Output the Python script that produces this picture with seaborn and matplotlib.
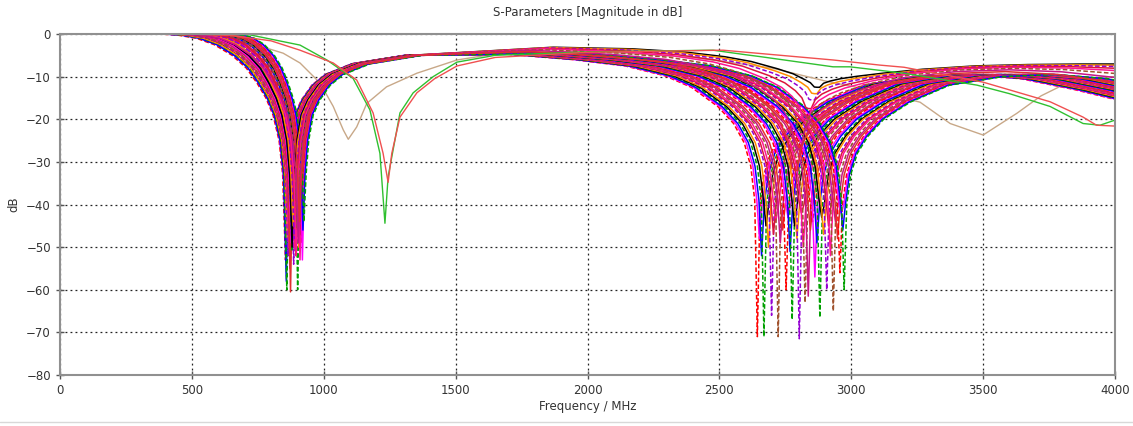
import numpy as np
import pandas as pd
import matplotlib
matplotlib.use("Agg")
import matplotlib.pyplot as plt
import seaborn as sns

# --- sweep family: dip positions / depths ---
f1 = [855, 857, 858, 860, 862, 863, 865, 867, 868, 870, 872, 874, 875, 877, 879, 880,
      882, 884, 886, 887, 889, 891, 893, 894, 896, 898, 899, 901, 903, 905, 906, 908,
      910, 912, 914, 915, 917, 919, 921, 925, 880, 884, 888, 892, 896, 900, 904, 908]
d1 = [-53, -45, -58, -60, -42, -48, -52, -44, -50, -47, -55, -60.5, -43, -49, -46, -51,
      -41, -48, -54, -45, -50, -43, -47, -52, -44, -49, -46, -60, -42, -50, -45, -48,
      -53, -44, -47, -43, -49, -53, -46, -44, -50, -45, -48, -43, -52, -46, -49, -44]
# how wide the left flank of the first dip is, per curve
w1 = [1.35, 1.3, 1.32, 1.28, 1.25, 1.27, 1.22, 1.2, 1.18, 1.2, 1.15, 1.12, 1.1, 1.12,
      1.08, 1.05, 1.03, 1.05, 1.0, 0.98, 0.97, 0.95, 0.93, 0.95, 0.9, 0.88, 0.9, 0.86,
      0.85, 0.83, 0.85, 0.82, 0.8, 0.8, 0.78, 0.8, 0.77, 0.76, 0.75, 0.75,
      1.1, 1.05, 1.0, 0.95, 1.15, 0.9, 1.2, 0.85]
f2 = [2644, 2652, 2660, 2669, 2677, 2686, 2698, 2705, 2714, 2723, 2731, 2740, 2753, 2760,
      2768, 2776, 2785, 2794, 2803, 2811, 2818, 2825, 2837, 2845, 2853, 2862, 2870, 2881,
      2888, 2895, 2907, 2914, 2921, 2932, 2940, 2948, 2957, 2962, 2968, 2973,
      2870, 2860, 2850, 2838, 2826, 2812, 2798, 2785]
d2 = [-71, -48, -52, -71, -45, -50, -66, -47, -44, -71, -49, -46, -60, -43, -51, -67,
      -45, -48, -71.5, -42, -50, -63, -61.5, -46, -44, -57, -49, -66.5, -43, -47, -60,
      -45, -52, -65, -44, -48, -56, -42, -46, -60,
      -12.5, -14, -15.5, -17.5, -20, -23, -27, -32]

# resonance shapes (offset from dip in MHz, dB)
off_a = [-950, -450, -350, -300, -250, -200, -150, -110, -80, -55, -35, -18, -8, 0,
         8, 18, 35, 60, 100, 150, 250, 450]
shape_a = [0, 0, 0, -0.3, -1.0, -2.5, -5, -8, -11.5, -15, -19, -25, -33, -50,
           -33, -25, -19, -15.5, -12, -9.5, -7, -5]
off_b = [-1000, -700, -500, -350, -250, -150, -90, -50, -25, -10, 0, 10, 25, 50, 90,
         150, 250, 400, 600, 800, 1000, 1200, 1400]
shape_b = [-4.5, -6, -7.5, -9.8, -12.5, -17, -21, -25.5, -31, -39, -50, -40, -33, -28,
           -24, -20, -16, -12, -10, -9.5, -10.5, -13, -16]
base_b = [-3, -3.3, -4, -5, -6, -7.5, -8.5, -9.5, -10, -10.5, -10.5, -10.5, -10, -9.8,
          -9.5, -9.2, -8.7, -8, -7.3, -7, -6.8, -6.6, -6.5]

# the three curves that fall outside the family
green_f = [0, 400, 550, 720, 910, 1012, 1111, 1175, 1213, 1232, 1244, 1289, 1339, 1415,
           1505, 1650, 2000, 2476, 2604, 2654, 2931, 2995, 3200, 3477, 3600, 3754, 3879,
           3943, 4000]
green_db = [0, 0, -0.1, -0.2, -2.6, -6.1, -10.4, -17.8, -28, -44.4, -33.5, -18.5, -13.8,
            -10, -6.6, -5, -4.2, -3.8, -4.9, -5.3, -7.7, -7.7, -9.2, -12, -14, -17, -21,
            -21.4, -20.2]
red_f = [0, 400, 550, 657, 800, 910, 1036, 1125, 1187, 1225, 1244, 1258, 1289, 1353,
         1420, 1505, 1650, 2000, 2514, 2932, 3109, 3200, 3500, 3754, 3879, 3930, 4000]
red_db = [0, 0, -0.1, -0.4, -1.6, -3.8, -6.8, -10.8, -18.5, -28, -34.8, -28, -19.5,
          -13.8, -10.5, -7.5, -5.5, -4.3, -3.8, -6.1, -7.3, -7.8, -11.3, -15.9, -19.5,
          -21.4, -21.6]
tan_f = [0, 450, 657, 720, 846, 910, 986, 1036, 1074, 1093, 1125, 1163, 1238, 1353,
         1505, 1668, 2000, 2400, 2700, 2900, 3100, 3261, 3375, 3500, 3628, 3720, 3818,
         3900, 4000]
tan_db = [0, 0, -0.2, -2.1, -4.5, -6.8, -11.5, -17, -22.5, -24.7, -21.8, -16.3, -12.4,
          -9.2, -6.1, -4.5, -4, -5.5, -8, -11, -13.5, -16, -21, -23.7, -18.6, -14.5,
          -11.5, -10.3, -10]

colors = ['#ff0000', '#ff00ff', '#0000ff', '#00a000', '#000000', '#ff8c00',
          '#9400d3', '#dc143c', '#ff1493', '#a0522d', '#c71585', '#e03030']

rows = []
for i in range(len(f1)):
    oa = np.array(off_a, dtype=float)
    oa[oa < 0] *= w1[i]
    ya = np.array(shape_a, dtype=float)
    ya[off_a.index(0)] = d1[i]
    xa = f1[i] + oa
    b0 = base_b[off_b.index(0)]
    g = min(1.0, (d2[i] - b0) / (-40 - b0))
    yb = np.array(base_b) + (np.array(shape_b) - np.array(base_b)) * g
    yb[off_b.index(0)] = d2[i]
    xb = f2[i] + np.array(off_b)
    for x, y in zip(np.concatenate([xa, xb]), np.concatenate([ya, yb])):
        rows.append({'curve': i, 'freq': x, 'db': y})
df = pd.DataFrame(rows)

sns.set_style('white')
plt.rcParams['font.family'] = ['DejaVu Sans']

fig = plt.figure(figsize=(11.33, 4.26), dpi=100)
ax = fig.add_axes([60 / 1133, 1 - 375 / 426, 1055 / 1133, 341 / 426])

n = len(f1)
pal = [colors[i % len(colors)] for i in range(n)]
dash = ['' if i % 3 else (3, 1.5) for i in range(n)]

sns.lineplot(x=tan_f, y=tan_db, color='#c8a888', linewidth=1.0, sort=False, ax=ax)
sns.lineplot(data=df, x='freq', y='db', hue='curve', style='curve', palette=pal,
             dashes=dash, estimator=None, sort=False, legend=False, linewidth=1.1, ax=ax)
sns.lineplot(x=green_f, y=green_db, color='#30c030', linewidth=1.0, sort=False, ax=ax)
sns.lineplot(x=red_f, y=red_db, color='#f05050', linewidth=1.0, sort=False, ax=ax)

ax.set_xlim(0, 4000)
ax.set_ylim(-80, 0)
ax.set_xticks(np.arange(0, 4001, 500))
ax.set_yticks(np.arange(-80, 1, 10))
ax.grid(True, color='#222222', linestyle=(0, (1.5, 2.5)), linewidth=0.9)
for s in ax.spines.values():
    s.set_color('#909090')
    s.set_linewidth(1.5)
ax.tick_params(direction='inout', length=6, width=1, color='#555555',
               labelsize=8.5, labelcolor='#333333', left=True, bottom=True)
ax.set_xlabel('Frequency / MHz', fontsize=8.5, color='#333333', labelpad=2)
ax.set_ylabel('dB', fontsize=8.5, color='#333333', labelpad=4)
ax.set_title('S-Parameters [Magnitude in dB]', fontsize=8.5, color='#333333', pad=13)
fig.add_artist(plt.Line2D([0, 1], [1 - 422 / 426] * 2, color='#d8d8d8', linewidth=1))

fig.savefig('out.png', dpi=100)
